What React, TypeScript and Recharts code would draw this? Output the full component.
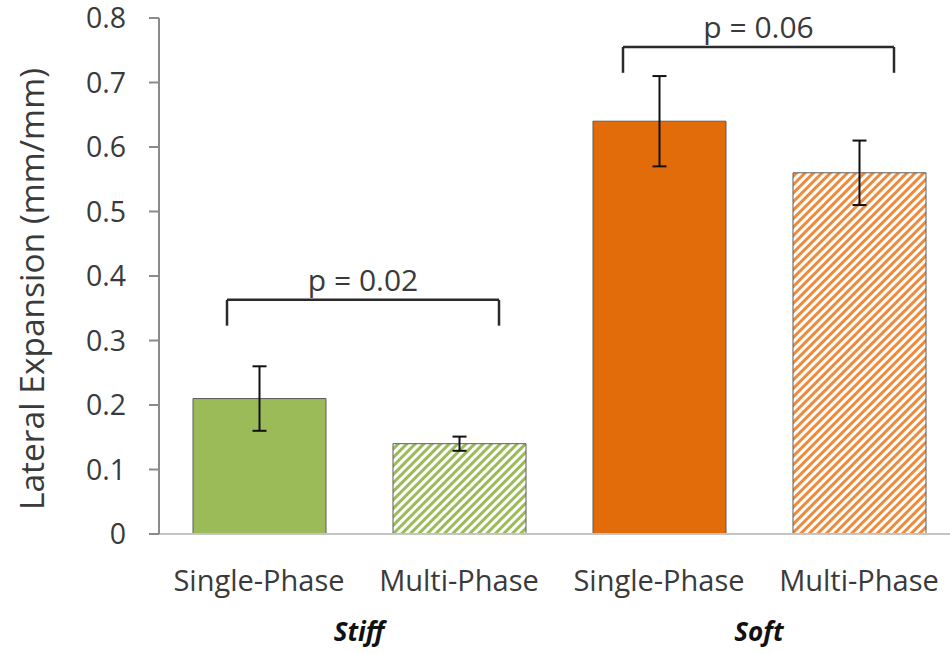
import React from 'react';
import { BarChart, Bar, Cell, XAxis, YAxis, ErrorBar, ReferenceLine } from 'recharts';

const categories = ['Single-Phase', 'Multi-Phase', 'Single-Phase', 'Multi-Phase'];
const means = [0.21, 0.14, 0.64, 0.56];
const errors = [0.05, 0.011, 0.07, 0.05];
const groups = ['Stiff', 'Soft'];
const groupTicks = [1, 3];
const yTicks = [0, 0.1, 0.2, 0.3, 0.4, 0.5, 0.6, 0.7, 0.8];

// significance brackets (x in category units on the numeric axis, y in data units)
const pLabels = ['p = 0.02', 'p = 0.06'];
const bracketStart = [0.34, 2.32];
const bracketEnd = [1.7, 3.675];
const bracketLevel = [0.363, 0.755];
const bracketDrop = 0.04;

const data = categories.map((name, i) => ({ id: i, name, mean: means[i], err: errors[i] }));

const GREEN = '#9BBB59';
const fills = ['#9BBB59', 'url(#hatchGreen)', '#E36C0A', 'url(#hatchOrange)'];

const textColor = '#3a3a3a';

export default function App() {
  return (
    <div
      style={{
        position: 'absolute',
        left: 0,
        top: 0,
        width: 950,
        height: 654,
        overflow: 'hidden',
        background: '#fff',
        fontFamily: '"Open Sans", sans-serif',
      }}
    >
      <BarChart width={970} height={654} data={data} margin={{ top: 18, right: 11, left: 0, bottom: 0 }}>
        <defs>
          <pattern id="hatchGreen" width="6" height="6" patternUnits="userSpaceOnUse" patternTransform="rotate(45)">
            <rect width="6" height="6" fill="#fff" />
            <line x1="1.5" y1="0" x2="1.5" y2="6" stroke={GREEN} strokeWidth="3" />
          </pattern>
          <pattern id="hatchOrange" width="6" height="6" patternUnits="userSpaceOnUse" patternTransform="rotate(45)">
            <rect width="6" height="6" fill="#fff" />
            <line x1="1.5" y1="0" x2="1.5" y2="6" stroke="#EE8A3C" strokeWidth="3" />
          </pattern>
        </defs>
        <XAxis
          dataKey="id"
          tickFormatter={(v) => categories[v]}
          axisLine={{ stroke: '#c4c4c4', strokeWidth: 2 }}
          tickLine={false}
          tickSize={0}
          tickMargin={36}
          height={70}
          tick={{ fill: textColor, fontSize: 29 }}
          interval={0}
        />
        <XAxis
          xAxisId="num"
          dataKey="id"
          type="number"
          scale="linear"
          domain={[0, 4]}
          allowDataOverflow={true}
          ticks={groupTicks}
          tickFormatter={(v) => groups[(v - 1) / 2]}
          axisLine={false}
          tickLine={false}
          tickSize={0}
          tickMargin={19}
          height={50}
          tick={{ fill: '#111', fontSize: 26, fontWeight: 'bold', fontStyle: 'italic' }}
        />
        <YAxis
          width={159}
          domain={[0, 0.8]}
          ticks={yTicks}
          tickFormatter={(v) => String(v)}
          axisLine={{ stroke: '#8a8a8a', strokeWidth: 2 }}
          tickLine={{ stroke: '#8a8a8a', strokeWidth: 2 }}
          tickSize={10}
          tickMargin={23}
          tick={{ fill: textColor, fontSize: 28.5 }}
          label={{
            value: 'Lateral Expansion (mm/mm)',
            angle: -90,
            position: 'insideLeft',
            offset: 32,
            dy: 13,
            fontSize: 33.5,
            fill: textColor,
            style: { textAnchor: 'middle' },
          }}
        />
        <Bar dataKey="mean" barSize={133} stroke="#5a5a5a" strokeWidth={1} isAnimationActive={false}>
          {data.map((d, i) => (
            <Cell key={i} fill={fills[i]} />
          ))}
          <ErrorBar dataKey="err" width={7} stroke="#111" strokeWidth={2} isAnimationActive={false} />
        </Bar>
        {pLabels.map((p, i) => (
          <ReferenceLine
            key={'h' + i}
            xAxisId="num"
            ifOverflow="visible"
            stroke="#2a2a2a"
            strokeWidth={2.5}
            segment={[
              { x: bracketStart[i], y: bracketLevel[i] },
              { x: bracketEnd[i], y: bracketLevel[i] },
            ]}
            label={{ value: p, position: 'top', offset: 9, fill: textColor, fontSize: 30 }}
          />
        ))}
        {pLabels.map((p, i) => (
          <ReferenceLine
            key={'l' + i}
            xAxisId="num"
            ifOverflow="visible"
            stroke="#2a2a2a"
            strokeWidth={2.5}
            segment={[
              { x: bracketStart[i], y: bracketLevel[i] },
              { x: bracketStart[i], y: bracketLevel[i] - bracketDrop },
            ]}
          />
        ))}
        {pLabels.map((p, i) => (
          <ReferenceLine
            key={'r' + i}
            xAxisId="num"
            ifOverflow="visible"
            stroke="#2a2a2a"
            strokeWidth={2.5}
            segment={[
              { x: bracketEnd[i], y: bracketLevel[i] },
              { x: bracketEnd[i], y: bracketLevel[i] - bracketDrop },
            ]}
          />
        ))}
      </BarChart>
    </div>
  );
}
